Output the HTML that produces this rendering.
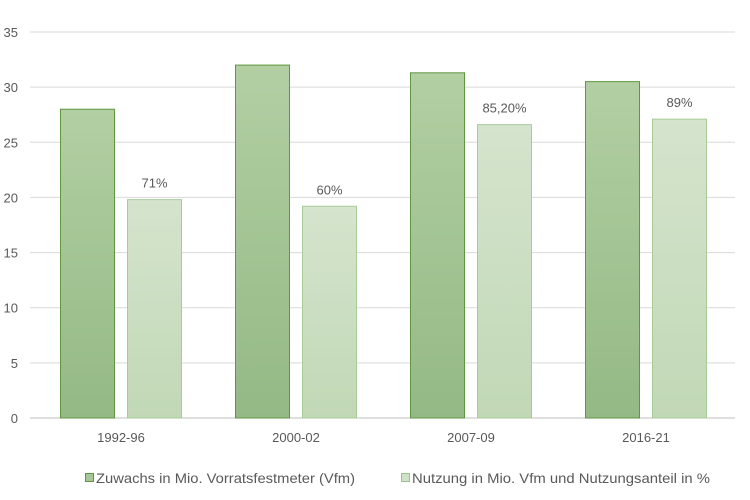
<!DOCTYPE html>
<html><head><meta charset="utf-8"><style>
body{margin:0;background:#fff;}
svg{display:block;font-family:"Liberation Sans",sans-serif;}
</style></head><body>
<svg id="chart" width="750" height="500">
<defs>
<linearGradient id="gDark" x1="0" y1="0" x2="0" y2="1"><stop offset="0" stop-color="#b2cfa3"/><stop offset="1" stop-color="#94b985"/></linearGradient>
<linearGradient id="gLight" x1="0" y1="0" x2="0" y2="1"><stop offset="0" stop-color="#d5e4cd"/><stop offset="1" stop-color="#c1d8b6"/></linearGradient>
</defs>
<g id="grid"></g><g id="bars"></g><g id="labels"></g>
<g>
<rect x="85.5" y="473.5" width="8" height="8" fill="#a6c896" stroke="#5f963f"/>
<text x="96" y="483" font-size="14" fill="#595959" textLength="259" lengthAdjust="spacingAndGlyphs">Zuwachs in Mio. Vorratsfestmeter (Vfm)</text>
<rect x="401.5" y="473.5" width="8" height="8" fill="#cfe1c6" stroke="#9cc38a"/>
<text x="412" y="483" font-size="14" fill="#595959" textLength="298" lengthAdjust="spacingAndGlyphs">Nutzung in Mio. Vfm und Nutzungsanteil in %</text>
</g>
</svg>
<script>
const categories=["1992-96","2000-02","2007-09","2016-21"];
const zuwachs=[28,32,31.3,30.5];
const nutzung=[19.8,19.2,26.6,27.1];
const nutzungLabels=["71%","60%","85,20%","89%"];
const yTicks=[0,5,10,15,20,25,30,35];
const NS="http://www.w3.org/2000/svg";
const y0=418,y35=32,left=30,right=735,groupW=175,x0=33;
const y=v=>y0-(v/35)*(y0-y35);
function mk(tag,attrs,parent){const e=document.createElementNS(NS,tag);for(const k in attrs)e.setAttribute(k,attrs[k]);document.getElementById(parent).appendChild(e);return e;}
yTicks.forEach(t=>{
 const l=mk('line',{x1:left,x2:right,y1:y(t),y2:y(t),stroke:t===0?'#bfbfbf':'#d9d9d9','stroke-width':1},'grid');
 
 
 const tx=mk('text',{x:18,y:y(t)+5,'text-anchor':'end','font-size':13,fill:'#595959'},'grid');
 tx.textContent=t;
 
 
});
categories.forEach((c,i)=>{
 const gx=x0+i*groupW;
 const b1=mk('rect',{x:gx+27.5,y:y(zuwachs[i]),width:54,height:y0-y(zuwachs[i]),fill:'url(#gDark)',stroke:'#5f963f','stroke-width':1},'bars');
 
 
 const b2=mk('rect',{x:gx+94.5,y:y(nutzung[i]),width:54,height:y0-y(nutzung[i]),fill:'url(#gLight)',stroke:'#a9cb98','stroke-width':1},'bars');
 
 
 const lt=mk('text',{x:gx+121.5,y:y(nutzung[i])-12,'text-anchor':'middle','font-size':13,fill:'#595959'},'labels');
 lt.textContent=nutzungLabels[i];
 
 
 const xt=mk('text',{x:gx+88,y:442,'text-anchor':'middle','font-size':13,fill:'#595959'},'labels');
 xt.textContent=c;
 
 
});
</script>
</body></html>
